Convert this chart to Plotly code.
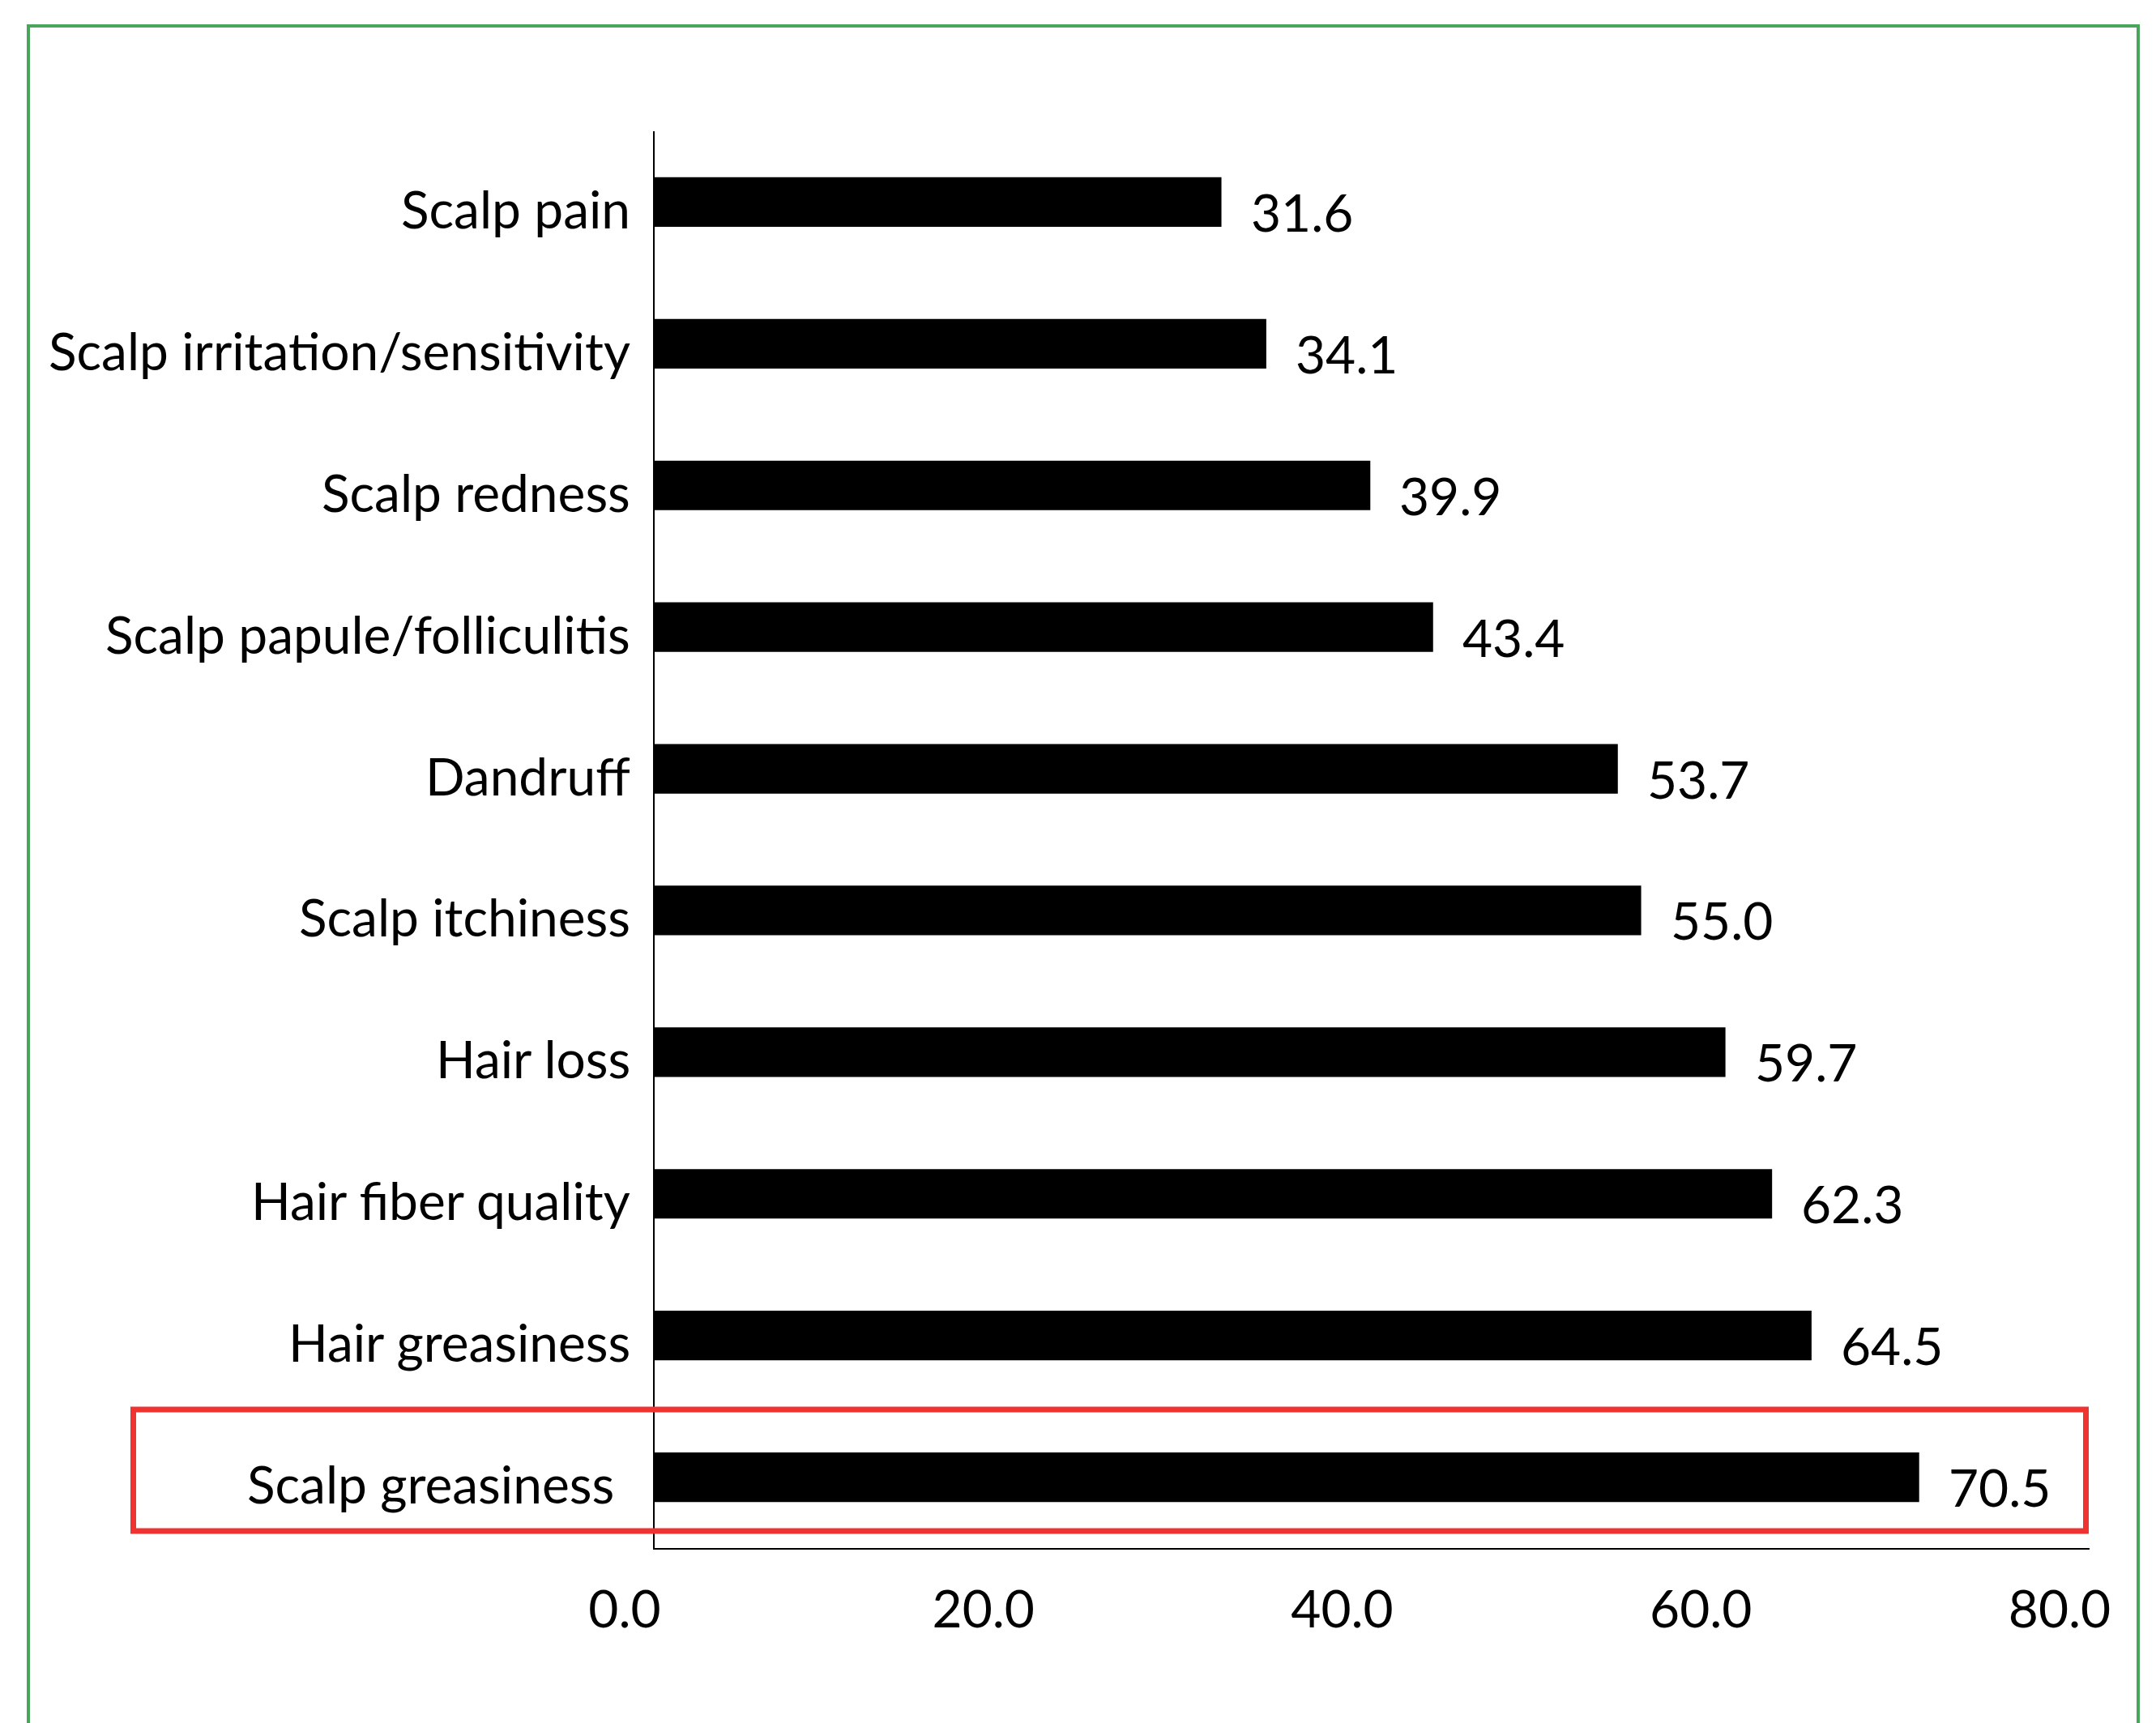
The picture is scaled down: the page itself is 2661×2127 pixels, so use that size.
import plotly.graph_objects as go

# Data (bottom -> top)
categories = [
    "Scalp greasiness",
    "Hair greasiness",
    "Hair fiber quality",
    "Hair loss",
    "Scalp itchiness",
    "Dandruff",
    "Scalp papule/folliculitis",
    "Scalp redness",
    "Scalp irritation/sensitivity",
    "Scalp pain",
]
values = [70.5, 64.5, 62.3, 59.7, 55.0, 53.7, 43.4, 39.9, 34.1, 31.6]
x_tick_vals = [0, 20, 40, 60, 80]
x_tick_text = ["0.0", "20.0", "40.0", "60.0", "80.0"]
highlight = "Scalp greasiness"

W, H = 2661, 2127
L, R, T, B = 808, 82, 162, 216
pw, ph = W - L - R, H - T - B

def px_x(p):
    return (p - L) / pw

def px_y(p):
    return (H - B - p) / ph

FONT = "Lato"
FS = 64

fig = go.Figure()
fig.add_trace(go.Bar(
    x=values, y=categories, orientation="h",
    marker=dict(color="#000000", line=dict(width=0)),
    width=0.35, showlegend=False, hoverinfo="skip",
))

annotations = []
for c, v in zip(categories, values):
    annotations.append(dict(
        x=v, y=c, xref="x", yref="y", text=f"{v:.1f}", showarrow=False,
        xanchor="left", yanchor="middle", xshift=34, yshift=-12,
        font=dict(family=FONT, size=FS, color="#000000"),
    ))
    annotations.append(dict(
        x=0, y=c, xref="x", yref="y", text=c, showarrow=False,
        xanchor="right", yanchor="middle",
        xshift=-48 if c == highlight else -28, yshift=-8,
        font=dict(family=FONT, size=FS, color="#000000"),
    ))

shapes = [
    # green frame
    dict(type="rect", xref="paper", yref="paper",
         x0=px_x(35), x1=px_x(2639), y0=px_y(2160), y1=px_y(32),
         line=dict(color="#4AA55C", width=4), fillcolor="rgba(0,0,0,0)", layer="below"),
    # red highlight box
    dict(type="rect", xref="paper", yref="y",
         x0=px_x(164.5), x1=px_x(2574.5), y0=-0.38, y1=0.478,
         line=dict(color="#EE3330", width=7), fillcolor="rgba(0,0,0,0)"),
]

fig.update_layout(
    width=W, height=H,
    margin=dict(l=L, r=R, t=T, b=B, pad=0),
    paper_bgcolor="white", plot_bgcolor="white",
    bargap=0.65,
    xaxis=dict(
        range=[0, 80], tickvals=x_tick_vals, ticktext=x_tick_text,
        showgrid=False, zeroline=False, showline=True, linecolor="#000000", linewidth=2,
        ticks="", ticklabelstandoff=19, ticklabelshift=-37,
        tickfont=dict(family=FONT, size=FS, color="#000000"),
        fixedrange=True,
    ),
    yaxis=dict(
        categoryorder="array", categoryarray=categories, range=[-0.5, 9.5],
        showgrid=False, zeroline=False, showline=True, linecolor="#000000", linewidth=2,
        ticks="", showticklabels=False, fixedrange=True,
    ),
    annotations=annotations,
    shapes=shapes,
)

fig.write_html("out.html")
